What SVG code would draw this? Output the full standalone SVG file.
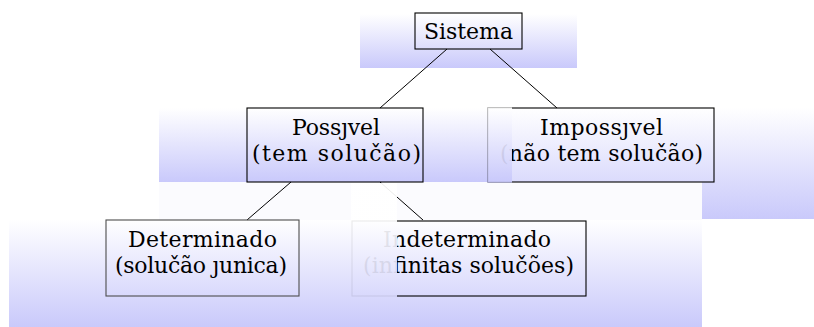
<svg xmlns="http://www.w3.org/2000/svg" width="814" height="327" viewBox="0 0 814 327">
<style>
.box{fill:none;stroke:#000;stroke-width:1.1}
.t{font-family:"DejaVu Serif","Liberation Serif",serif;font-size:22px;fill:#000;text-anchor:middle}
.conn line{stroke:#000;stroke-width:1}
</style>
<defs>
<linearGradient id="g0" gradientUnits="userSpaceOnUse" x1="0" y1="14" x2="0" y2="68"><stop offset="0" stop-color="#fff"/><stop offset="1" stop-color="#c9c9fb"/></linearGradient>
<linearGradient id="g1" gradientUnits="userSpaceOnUse" x1="0" y1="108" x2="0" y2="182"><stop offset="0" stop-color="#fff"/><stop offset="1" stop-color="#c9c9fb"/></linearGradient>
<linearGradient id="g2" gradientUnits="userSpaceOnUse" x1="0" y1="108" x2="0" y2="219"><stop offset="0" stop-color="#fff"/><stop offset="1" stop-color="#c9c9fb"/></linearGradient>
<linearGradient id="g3" gradientUnits="userSpaceOnUse" x1="0" y1="220" x2="0" y2="327"><stop offset="0" stop-color="#fff"/><stop offset="1" stop-color="#c9c9fb"/></linearGradient>
</defs>
<rect width="814" height="327" fill="#fff"/>
<g id="shading">
<rect x="360" y="14" width="217" height="54" fill="url(#g0)"/>
<rect x="512" y="108" width="302" height="111" fill="url(#g2)"/>
<rect x="159" y="108" width="353" height="74" fill="url(#g1)"/>
<rect x="159" y="182" width="543" height="38" fill="#fbfbfe"/>
<rect x="9" y="220" width="693" height="107" fill="url(#g3)"/>
</g>
<g id="connectors" class="conn">
<line x1="447" y1="49" x2="380" y2="108"/>
<line x1="490" y1="49" x2="557" y2="108"/>
<line x1="291" y1="182" x2="247" y2="220"/>
<line x1="380" y1="182" x2="423" y2="220"/>
</g>
<g id="sistema">
<rect class="box" x="415" y="13" width="107" height="36"/>
<text class="t" x="468.5" y="39" textLength="89">Sistema</text>
</g>
<g id="possivel">
<rect class="box" x="247" y="108" width="176" height="74"/>
<text class="t" x="336" y="135" textLength="88">Possȷvel</text>
<text class="t" x="336.5" y="161" textLength="169">(tem solučão)</text>
</g>
<g id="impossivel">
<rect class="box" x="488" y="108" width="226" height="74"/>
<text class="t" x="601.5" y="135" textLength="123">Impossȷvel</text>
<text class="t" x="601.5" y="161" textLength="203">(não tem solučão)</text>
</g>
<g id="determinado">
<rect class="box" x="106" y="220" width="193" height="76" style="stroke:#4d4d4d"/>
<text class="t" x="202.5" y="247" textLength="149">Determinado</text>
<text class="t" x="201" y="273" textLength="172">(solučão ȷunica)</text>
</g>
<g id="indeterminado">
<rect class="box" x="352" y="221" width="234" height="75"/>
<text class="t" x="467" y="247" textLength="168">Indeterminado</text>
<text class="t" x="468.5" y="273" textLength="211">(infinitas solučões)</text>
</g>
<g id="occluders">
<rect x="487.4" y="107.4" width="24.6" height="75.2" fill="url(#g1)" opacity="0.92"/>
<rect x="351" y="183" width="46" height="114" fill="url(#g3)" opacity="0.92"/>
</g>
</svg>
